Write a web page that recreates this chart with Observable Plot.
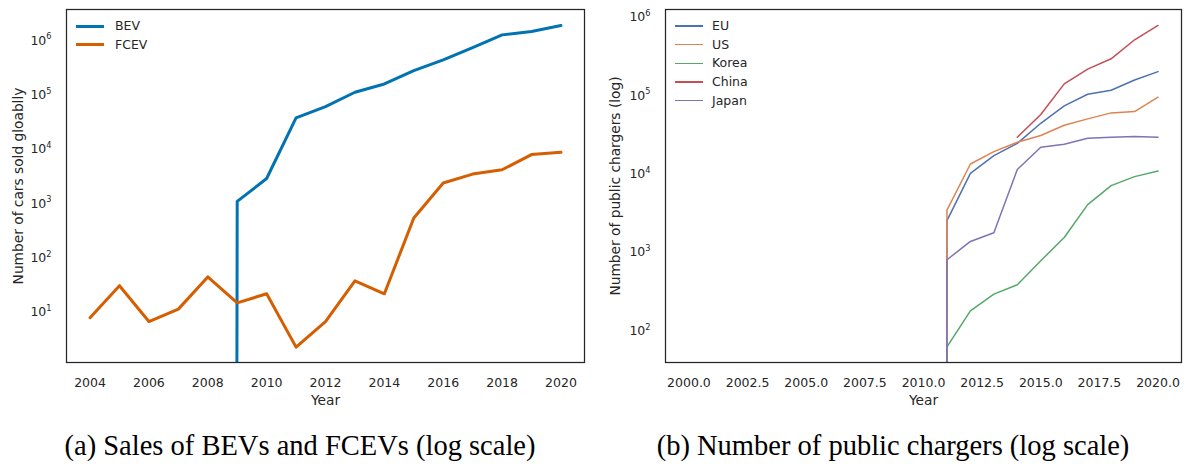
<!DOCTYPE html>
<html>
<head>
<meta charset="utf-8">
<script src="https://cdn.jsdelivr.net/npm/d3@7"></script>
<script src="https://cdn.jsdelivr.net/npm/@observablehq/plot@0.6"></script>
<style>
  body { margin: 0; background: #fff; }
  #root { position: relative; width: 1187px; height: 464px; background: #fff; overflow: hidden;
          font-family: "DejaVu Sans", sans-serif; color: #262626; }
  .panel { position: absolute; top: 0; }
  .legend { position: absolute; top: 0; font-size: 12.5px; }
  .legend .row { position: absolute; left: 0; height: 0; white-space: nowrap; }
  .legend .sw { position: absolute; left: 0; width: 28px; }
  .legend .lb { position: absolute; line-height: 18px; top: -9px; }
  .caption { position: absolute; top: 432px; font-family: "Liberation Serif", "Times New Roman", serif;
             font-size: 28.5px; line-height: 28.5px; text-align: center; color: #000; white-space: nowrap; }
</style>
</head>
<body>
<div id="root">
  <div id="panelA" class="panel" style="left:0px"></div>
  <div id="panelB" class="panel" style="left:600px"></div>
  <div id="legendA" class="legend" style="left:76px"></div>
  <div id="legendB" class="legend" style="left:675px"></div>
  <div class="caption" style="left:0px;width:600px">(a) Sales of BEVs and FCEVs (log scale)</div>
  <div class="caption" style="left:600px;width:586px">(b) Number of public chargers (log scale)</div>
</div>
<script>
// ---------- Panel (a): sales of BEVs and FCEVs ----------
const yearsA = [2004, 2005, 2006, 2007, 2008, 2009, 2010, 2011, 2012, 2013, 2014, 2015, 2016, 2017, 2018, 2019, 2020];
const bev  = [0, 0, 0, 0, 0, 1100, 2900, 37800, 61000, 112000, 159000, 280000, 440000, 743000, 1270000, 1460000, 1890000];
const fcev = [8, 31, 6.8, 11.5, 45, 15, 22, 2.3, 6.8, 38, 22, 545, 2400, 3500, 4200, 8000, 8800];
const seriesA = ["BEV", "FCEV"];
const colorsA = ["#0173B2", "#D55E00"];
const xTicksA = [2004, 2006, 2008, 2010, 2012, 2014, 2016, 2018, 2020];
const yTicksA = [1e1, 1e2, 1e3, 1e4, 1e5, 1e6];

// ---------- Panel (b): number of public chargers ----------
const yearsB = [2000, 2001, 2002, 2003, 2004, 2005, 2006, 2007, 2008, 2009, 2010,
                2011, 2012, 2013, 2014, 2015, 2016, 2017, 2018, 2019, 2020];
const eu    = [0,0,0,0,0,0,0,0,0,0,0, 2540, 10200, 17100, 24600, 44300, 73800, 104000, 117000, 158000, 202000];
const us    = [0,0,0,0,0,0,0,0,0,0,0, 3470, 13400, 19300, 25400, 30900, 41800, 50400, 60100, 62500, 95200];
const korea = [0,0,0,0,0,0,0,0,0,0,0, 62.5, 180, 294, 387, 783, 1550, 4060, 7100, 9250, 10900];
const china = [null,null,null,null,null,null,null,null,null,null,null, null, null, null, 29400, 57200, 141000, 217000, 294000, 514000, 783000];
const japan = [0,0,0,0,0,0,0,0,0,0,0, 806, 1380, 1780, 11400, 21900, 23900, 28500, 29400, 30000, 29400];
const seriesB = ["EU", "US", "Korea", "China", "Japan"];
const valuesB = [eu, us, korea, china, japan];
const colorsB = ["#4C72B0", "#DD8452", "#55A868", "#C44E52", "#8172B3"];
const xTicksB = [2000, 2002.5, 2005, 2007.5, 2010, 2012.5, 2015, 2017.5, 2020];
const yTicksB = [1e2, 1e3, 1e4, 1e5, 1e6];

// matplotlib "clip" behaviour for non-positive values on a log axis
const NONPOS = 1e-300;
const logSafe = v => (v == null ? null : (v > 0 ? v : NONPOS));

const INK = "#262626";
const baseStyle = { fontFamily: "DejaVu Sans", fontSize: "12.5px", color: INK, background: "white", overflow: "hidden" };
const expFormat = d => String(Math.round(Math.log10(d)));

function superscripts(svg) {
  const ns = "http://www.w3.org/2000/svg";
  svg.querySelectorAll('g[aria-label="y-axis tick label"] text').forEach(t => {
    const e = t.textContent;
    t.textContent = "";
    const a = document.createElementNS(ns, "tspan");
    a.textContent = "10";
    const b = document.createElementNS(ns, "tspan");
    b.setAttribute("dy", "-5.3");
    b.setAttribute("font-size", "8.2");
    b.textContent = e;
    t.append(a, b);
  });
}

const labelOpts = { text: d => d, fontSize: 13.75, fill: INK, textAnchor: "middle", lineAnchor: "middle" };

const plotA = Plot.plot({
  width: 600, height: 420,
  marginLeft: 66, marginRight: 16, marginTop: 9, marginBottom: 58,
  style: baseStyle,
  x: { domain: [2003.2, 2020.8], ticks: xTicksA, tickFormat: d3.format("d"), tickSize: 0, tickPadding: 16, label: null },
  y: { type: "log", domain: [1.2, 3.72e6], ticks: yTicksA, tickFormat: expFormat, tickSize: 0, tickPadding: 15, label: null },
  marks: [
    Plot.line(yearsA, { x: d => d, y: (d, i) => logSafe(bev[i]), stroke: colorsA[0], strokeWidth: 3, clip: true }),
    Plot.line(yearsA, { x: d => d, y: (d, i) => logSafe(fcev[i]), stroke: colorsA[1], strokeWidth: 3, clip: true }),
    Plot.frame({ stroke: INK, strokeWidth: 1.25 }),
    Plot.text(["Year"], { ...labelOpts, frameAnchor: "bottom", dy: 38 }),
    Plot.text(["Number of cars sold gloablly"], { ...labelOpts, frameAnchor: "left", dx: -48, rotate: -90 })
  ]
});
superscripts(plotA);
document.getElementById("panelA").appendChild(plotA);

const plotB = Plot.plot({
  width: 587, height: 420,
  marginLeft: 65, marginRight: 6, marginTop: 9, marginBottom: 58,
  style: baseStyle,
  x: { domain: [1999, 2021], ticks: xTicksB, tickFormat: d3.format(".1f"), tickSize: 0, tickPadding: 16, label: null },
  y: { type: "log", domain: [39.5, 1.25e6], ticks: yTicksB, tickFormat: expFormat, tickSize: 0, tickPadding: 15, label: null },
  marks: [
    ...valuesB.map((vals, k) =>
      Plot.line(yearsB, { x: d => d, y: (d, i) => logSafe(vals[i]), stroke: colorsB[k], strokeWidth: 1.5, clip: true })),
    Plot.frame({ stroke: INK, strokeWidth: 1.25 }),
    Plot.text(["Year"], { ...labelOpts, frameAnchor: "bottom", dy: 38 }),
    Plot.text(["Number of public chargers (log)"], { ...labelOpts, frameAnchor: "left", dx: -50, rotate: -90 })
  ]
});
superscripts(plotB);
document.getElementById("panelB").appendChild(plotB);

// ---------- legends (HTML) ----------
function legend(el, names, colors, lw, rowTops, labelLeft) {
  names.forEach((n, k) => {
    const row = document.createElement("div");
    row.className = "row";
    row.style.top = rowTops[k] + "px";
    const sw = document.createElement("div");
    sw.className = "sw";
    sw.style.height = lw + "px";
    sw.style.top = (-lw / 2) + "px";
    sw.style.background = colors[k];
    const lb = document.createElement("div");
    lb.className = "lb";
    lb.style.left = labelLeft + "px";
    lb.textContent = n;
    row.append(sw, lb);
    el.appendChild(row);
  });
}
legend(document.getElementById("legendA"), seriesA, colorsA, 3, [26, 44.7], 39);
legend(document.getElementById("legendB"), seriesB, colorsB, 1.5, [26, 44.7, 63.3, 82, 100.7], 37);
</script>
</body>
</html>
